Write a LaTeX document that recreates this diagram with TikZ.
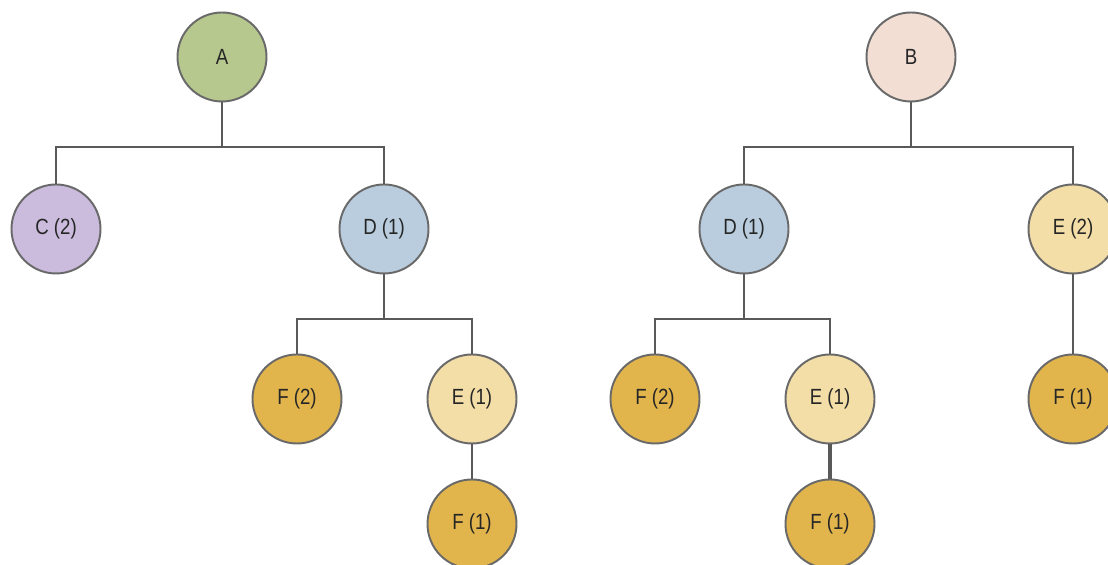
\documentclass[tikz,border=0pt]{standalone}
\usepackage{fontspec}
\setmainfont[FakeStretch=0.85]{Liberation Sans}
\usepackage{tikz}

\definecolor{agreen}{RGB}{183,200,142}
\definecolor{cpurple}{RGB}{203,188,222}
\definecolor{dblue}{RGB}{186,205,222}
\definecolor{bpink}{RGB}{242,222,211}
\definecolor{elight}{RGB}{244,222,168}
\definecolor{fgold}{RGB}{226,181,76}
\definecolor{rim}{RGB}{105,105,105}

\begin{document}
\begin{tikzpicture}[
  x=1cm,
  y=1cm,
  every node/.style={font=\fontsize{12.5}{14}\selectfont, text=black!85},
  tnode/.style={draw=rim, line width=1.1pt, circle, minimum size=1.78cm, inner sep=0pt},
  edge/.style={draw=black!65, line width=1.5pt}
]
\clip (0,0) rectangle (22.16,11.3);
\useasboundingbox (0,0) rectangle (22.16,11.3);

% left tree
\node[tnode, fill=agreen] (A) at (4.44,10.16) {A};
\node[tnode, fill=cpurple] (C) at (1.12,6.72) {C (2)};
\node[tnode, fill=dblue] (D) at (7.68,6.72) {D (1)};
\node[tnode, fill=fgold] (F2) at (5.94,3.32) {F (2)};
\node[tnode, fill=elight] (E1) at (9.44,3.32) {E (1)};
\node[tnode, fill=fgold] (F1) at (9.44,0.82) {F (1)};

\coordinate (jA) at (4.44,8.36);
\coordinate (jD) at (7.68,4.92);
\draw[edge] (A.south) -- (jA);
\draw[edge] (C.north) |- (jA) -| (D.north);
\draw[edge] (D.south) -- (jD);
\draw[edge] (F2.north) |- (jD) -| (E1.north);
\draw[edge] (E1.south) -- (F1.north);

% right tree
\node[tnode, fill=bpink] (B) at (18.22,10.16) {B};
\node[tnode, fill=dblue] (Db) at (14.88,6.72) {D (1)};
\node[tnode, fill=elight] (E2b) at (21.46,6.72) {E (2)};
\node[tnode, fill=fgold] (F2b) at (13.10,3.32) {F (2)};
\node[tnode, fill=elight] (E1b) at (16.60,3.32) {E (1)};
\node[tnode, fill=fgold] (F1b) at (16.60,0.82) {F (1)};
\node[tnode, fill=fgold] (F1c) at (21.46,3.32) {F (1)};

\coordinate (jB) at (18.22,8.36);
\coordinate (jDb) at (14.88,4.92);
\draw[edge] (B.south) -- (jB);
\draw[edge] (Db.north) |- (jB) -| (E2b.north);
\draw[edge] (Db.south) -- (jDb);
\draw[edge] (F2b.north) |- (jDb) -| (E1b.north);
\draw[edge, line width=2.2pt] (E1b.south) -- (F1b.north);
\draw[edge] (E2b.south) -- (F1c.north);
\end{tikzpicture}
\end{document}
